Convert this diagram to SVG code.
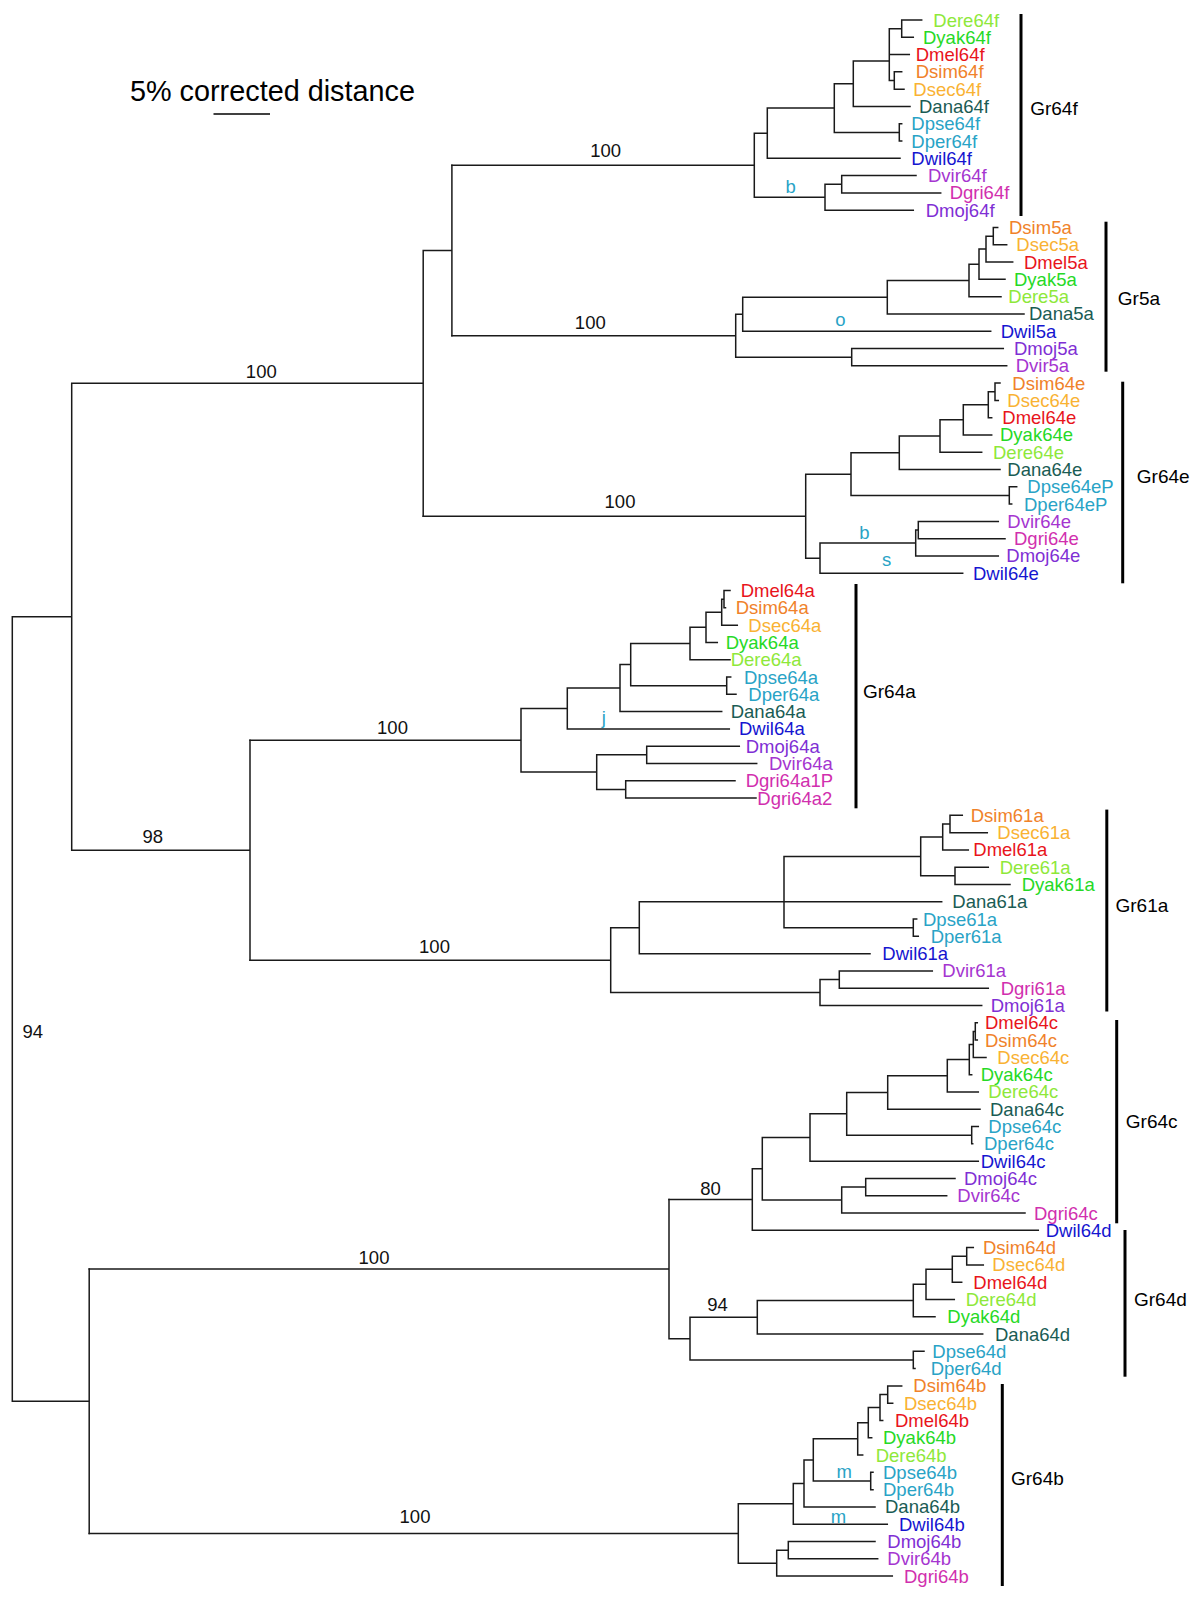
<svg xmlns="http://www.w3.org/2000/svg" width="1200" height="1607" viewBox="0 0 1200 1607">
<style>
.br{fill:none;stroke:#1a1a1a;stroke-width:1.5;stroke-linecap:square}
.bk{fill:none;stroke:#000;stroke-width:3}
text{font-family:"Liberation Sans",Arial,sans-serif}
.lf text{font-size:18.5px;dominant-baseline:central}
.gr{font-size:19px;fill:#000;dominant-baseline:central}
.bs{font-size:18.5px;fill:#111;text-anchor:middle}
.nt{font-size:18.5px;fill:#29a3c6;text-anchor:middle}
.mel{fill:#e8141b}.sim{fill:#f0822a}.sec{fill:#f9b233}.yak{fill:#26d926}.ere{fill:#8ee83a}
.ana{fill:#1a5c54}.pse{fill:#29a3c6}.wil{fill:#1515d0}.moj{fill:#7f2fd4}.vir{fill:#a535d0}.gri{fill:#d12fae}
</style>
<rect width="1200" height="1607" fill="#fff"/>
<g id="scale">
<text x="130" y="100.5" font-size="28.8" fill="#000">5% corrected distance</text>
<path d="M213.5 114H270" stroke="#000" stroke-width="1.5"/>
</g>
<g id="connectors">
<path class="br" d="M451.9 165.21V335.68 M423.2 250.45H451.9 M423.2 250.45V516.14 M71.7 383.29H423.2 M71.7 383.29V850.23 M71.7 850.23H250 M250 740.31V960.14 M12.3 616.76H71.7 M12.3 616.76V1401.28 M12.3 1401.28H89.2 M89.2 1269.08V1533.48"/>
<path class="br" d="M901.7 20V37.29 M894.3 71.87V89.16 M889.3 28.65V80.52 M899.3 123.74V141.03 M853.3 61.06V106.45 M834.3 83.76V132.39 M767.3 108.07V158.32 M841.7 175.61V192.9 M825 184.26V210.19 M754.3 133.2V197.22 M901.7 20H921.7 M901.7 37.29H913.3 M889.3 28.65H901.7 M889.3 54.58H909.3 M894.3 71.87H901.7 M894.3 89.16H904 M889.3 80.52H894.3 M853.3 61.06H889.3 M853.3 106.45H910 M834.3 83.76H853.3 M899.3 123.74H901.7 M899.3 141.03H901.7 M834.3 132.39H899.3 M767.3 108.07H834.3 M767.3 158.32H900 M754.3 133.2H767.3 M841.7 175.61H916 M841.7 192.9H940.7 M825 184.26H841.7 M825 210.19H913.3 M754.3 197.22H825 M451.9 165.21H754.3"/>
<path class="br" d="M993.3 227.48V244.77 M986 236.13V262.06 M979 249.09V279.35 M969 264.22V296.64 M887.3 280.43V313.93 M742.7 297.18V331.22 M851.7 348.51V365.8 M735.7 314.2V357.16 M993.3 227.48H997.7 M993.3 244.77H1006.7 M986 236.13H993.3 M986 262.06H1012.7 M979 249.09H986 M979 279.35H1005 M969 264.22H979 M969 296.64H1001 M887.3 280.43H969 M887.3 313.93H1024 M742.7 297.18H887.3 M742.7 331.22H990.7 M735.7 314.2H742.7 M851.7 348.51H1003.3 M851.7 365.8H1006.7 M735.7 357.16H851.7 M451.9 335.68H735.7"/>
<path class="br" d="M995 383.09V400.38 M988.3 391.74V417.67 M963.3 404.7V434.96 M940 419.83V452.25 M899.3 436.04V469.54 M1009.3 486.83V504.12 M851 452.79V495.48 M918.3 521.41V538.7 M915.7 530.06V555.99 M820 543.02V573.28 M805.7 474.13V558.15 M995 383.09H1000 M995 400.38H998.3 M988.3 391.74H995 M988.3 417.67H991.7 M963.3 404.7H988.3 M963.3 434.96H991.7 M940 419.83H963.3 M940 452.25H981.7 M899.3 436.04H940 M899.3 469.54H1000 M851 452.79H899.3 M1009.3 486.83H1016.7 M1009.3 504.12H1011.7 M851 495.48H1009.3 M805.7 474.13H851 M918.3 521.41H998.3 M918.3 538.7H1005 M915.7 530.06H918.3 M915.7 555.99H998.3 M820 543.02H915.7 M820 573.28H962.7 M805.7 558.15H820 M423.2 516.14H805.7"/>
<path class="br" d="M724 590.57V607.86 M721.7 599.22V625.15 M706 612.18V642.44 M690 627.31V659.73 M726.7 677.02V694.31 M630.7 643.52V685.67 M620 664.59V711.6 M567.3 688.1V728.89 M646.7 746.18V763.47 M625.7 780.76V798.05 M596.7 754.83V789.41 M521 708.5V772.12 M724 590.57H730 M724 607.86H725.5 M721.7 599.22H724 M721.7 625.15H737.3 M706 612.18H721.7 M706 642.44H717.3 M690 627.31H706 M690 659.73H730 M630.7 643.52H690 M726.7 677.02H730.7 M726.7 694.31H736 M630.7 685.67H726.7 M620 664.59H630.7 M620 711.6H721.7 M567.3 688.1H620 M567.3 728.89H729.3 M521 708.5H567.3 M646.7 746.18H739.3 M646.7 763.47H756.7 M596.7 754.83H646.7 M625.7 780.76H735 M625.7 798.05H756 M596.7 789.41H625.7 M521 772.12H596.7 M250 740.31H521"/>
<path class="br" d="M950 815.34V832.63 M942.7 823.99V849.92 M955 867.21V884.5 M920.7 836.95V875.86 M913.3 919.08V936.37 M784 856.4V927.73 M639.3 901.79V953.66 M839.3 970.95V988.24 M820 979.6V1005.53 M610.7 927.73V992.56 M950 815.34H962.3 M950 832.63H987.3 M942.7 823.99H950 M942.7 849.92H968.3 M920.7 836.95H942.7 M955 867.21H988.3 M955 884.5H1010 M920.7 875.86H955 M784 856.4H920.7 M913.3 919.08H916.7 M913.3 936.37H918.3 M784 927.73H913.3 M639.3 901.79H941.7 M639.3 953.66H870 M610.7 927.73H639.3 M839.3 970.95H932.3 M839.3 988.24H988.3 M820 979.6H839.3 M820 1005.53H981.7 M610.7 992.56H820 M250 960.14H610.7"/>
<path class="br" d="M975.3 1022.82V1040.11 M973.3 1031.47V1057.4 M969.3 1044.43V1074.69 M947.3 1059.56V1091.98 M887.7 1075.77V1109.27 M971.7 1126.56V1143.85 M846.7 1092.52V1135.21 M810 1113.86V1161.14 M865.7 1178.43V1195.72 M841.7 1187.08V1213.01 M762.3 1137.5V1200.04 M752.3 1168.77V1230.3 M975.3 1022.82H977.3 M975.3 1040.11H977.3 M973.3 1031.47H975.3 M973.3 1057.4H986 M969.3 1044.43H973.3 M969.3 1074.69H971.7 M947.3 1059.56H969.3 M947.3 1091.98H978.3 M887.7 1075.77H947.3 M887.7 1109.27H980 M846.7 1092.52H887.7 M971.7 1126.56H978.3 M971.7 1143.85H972.7 M846.7 1135.21H971.7 M810 1113.86H846.7 M810 1161.14H978.3 M762.3 1137.5H810 M865.7 1178.43H955 M865.7 1195.72H946.7 M841.7 1187.08H865.7 M841.7 1213.01H1025 M762.3 1200.04H841.7 M752.3 1168.77H762.3 M752.3 1230.3H1038.3 M669 1199.54H752.3"/>
<path class="br" d="M966.7 1247.59V1264.88 M952.3 1256.24V1282.17 M926 1269.2V1299.46 M913.3 1284.33V1316.75 M757.3 1300.54V1334.04 M913.3 1351.33V1368.62 M690 1317.29V1359.98 M669 1199.54V1338.63 M966.7 1247.59H973.3 M966.7 1264.88H983.3 M952.3 1256.24H966.7 M952.3 1282.17H961.7 M926 1269.2H952.3 M926 1299.46H954.3 M913.3 1284.33H926 M913.3 1316.75H935 M757.3 1300.54H913.3 M757.3 1334.04H982.7 M690 1317.29H757.3 M913.3 1351.33H924 M913.3 1368.62H915 M690 1359.98H913.3 M669 1338.63H690 M89.2 1269.08H669"/>
<path class="br" d="M887.7 1385.91V1403.2 M880 1394.56V1420.49 M868.3 1407.52V1437.78 M857.7 1422.65V1455.07 M870.7 1472.36V1489.65 M813.3 1438.86V1481.01 M804 1459.93V1506.94 M793.3 1483.44V1524.23 M788.3 1541.52V1558.81 M776.7 1550.17V1576.1 M738.3 1503.83V1563.13 M887.7 1385.91H901.7 M887.7 1403.2H892.7 M880 1394.56H887.7 M880 1420.49H882.7 M868.3 1407.52H880 M868.3 1437.78H871.7 M857.7 1422.65H868.3 M857.7 1455.07H862.7 M813.3 1438.86H857.7 M870.7 1472.36H873 M870.7 1489.65H873 M813.3 1481.01H870.7 M804 1459.93H813.3 M804 1506.94H875 M793.3 1483.44H804 M793.3 1524.23H887.3 M738.3 1503.83H793.3 M788.3 1541.52H875 M788.3 1558.81H877.7 M776.7 1550.17H788.3 M776.7 1576.1H892.3 M738.3 1563.13H776.7 M89.2 1533.48H738.3"/>
</g>
<g id="support">
<text class="bs" x="605.7" y="157.2">100</text>
<text class="bs" x="590.3" y="329.4">100</text>
<text class="bs" x="620" y="507.6">100</text>
<text class="bs" x="261.3" y="377.6">100</text>
<text class="bs" x="392.5" y="734.2">100</text>
<text class="bs" x="152.7" y="842.8">98</text>
<text class="bs" x="434.5" y="952.5">100</text>
<text class="bs" x="32.8" y="1037.6">94</text>
<text class="bs" x="374" y="1264">100</text>
<text class="bs" x="710.5" y="1195.4">80</text>
<text class="bs" x="717.5" y="1311.2">94</text>
<text class="bs" x="415" y="1523.3">100</text>
</g>
<g id="notes">
<text class="nt" x="790.7" y="193">b</text>
<text class="nt" x="840.5" y="325.5">o</text>
<text class="nt" x="864.5" y="538.8">b</text>
<text class="nt" x="886.6" y="565.5">s</text>
<text class="nt" x="603.8" y="723.5">j</text>
<text class="nt" x="844.2" y="1477.5">m</text>
<text class="nt" x="838.5" y="1522.5">m</text>
</g>
<g id="clade-Gr64f">
<path class="bk" d="M1021 14V216"/><text class="gr" x="1030.2" y="108.3">Gr64f</text>
<g class="lf">
<g id="Dere64f"><text class="ere" x="933.3" y="20">Dere64f</text></g>
<g id="Dyak64f"><text class="yak" x="923" y="37.29">Dyak64f</text></g>
<g id="Dmel64f"><text class="mel" x="915.7" y="54.58">Dmel64f</text></g>
<g id="Dsim64f"><text class="sim" x="915.7" y="71.87">Dsim64f</text></g>
<g id="Dsec64f"><text class="sec" x="913.3" y="89.16">Dsec64f</text></g>
<g id="Dana64f"><text class="ana" x="919" y="106.45">Dana64f</text></g>
<g id="Dpse64f"><text class="pse" x="911.3" y="123.74">Dpse64f</text></g>
<g id="Dper64f"><text class="pse" x="911.3" y="141.03">Dper64f</text></g>
<g id="Dwil64f"><text class="wil" x="911.3" y="158.32">Dwil64f</text></g>
<g id="Dvir64f"><text class="vir" x="928" y="175.61">Dvir64f</text></g>
<g id="Dgri64f"><text class="gri" x="949.7" y="192.9">Dgri64f</text></g>
<g id="Dmoj64f"><text class="moj" x="925.7" y="210.19">Dmoj64f</text></g>
</g>
</g>
<g id="clade-Gr5a">
<path class="bk" d="M1106 221.7V371.7"/><text class="gr" x="1117.8" y="298.3">Gr5a</text>
<g class="lf">
<g id="Dsim5a"><text class="sim" x="1009" y="227.48">Dsim5a</text></g>
<g id="Dsec5a"><text class="sec" x="1016.3" y="244.77">Dsec5a</text></g>
<g id="Dmel5a"><text class="mel" x="1024" y="262.06">Dmel5a</text></g>
<g id="Dyak5a"><text class="yak" x="1014" y="279.35">Dyak5a</text></g>
<g id="Dere5a"><text class="ere" x="1008.3" y="296.64">Dere5a</text></g>
<g id="Dana5a"><text class="ana" x="1029" y="313.93">Dana5a</text></g>
<g id="Dwil5a"><text class="wil" x="1000.7" y="331.22">Dwil5a</text></g>
<g id="Dmoj5a"><text class="moj" x="1014" y="348.51">Dmoj5a</text></g>
<g id="Dvir5a"><text class="vir" x="1015.7" y="365.8">Dvir5a</text></g>
</g>
</g>
<g id="clade-Gr64e">
<path class="bk" d="M1122.7 381.7V583.3"/><text class="gr" x="1136.8" y="476.7">Gr64e</text>
<g class="lf">
<g id="Dsim64e"><text class="sim" x="1012.3" y="383.09">Dsim64e</text></g>
<g id="Dsec64e"><text class="sec" x="1007.3" y="400.38">Dsec64e</text></g>
<g id="Dmel64e"><text class="mel" x="1002.3" y="417.67">Dmel64e</text></g>
<g id="Dyak64e"><text class="yak" x="1000" y="434.96">Dyak64e</text></g>
<g id="Dere64e"><text class="ere" x="993" y="452.25">Dere64e</text></g>
<g id="Dana64e"><text class="ana" x="1007.3" y="469.54">Dana64e</text></g>
<g id="Dpse64eP"><text class="pse" x="1027.3" y="486.83">Dpse64eP</text></g>
<g id="Dper64eP"><text class="pse" x="1024" y="504.12">Dper64eP</text></g>
<g id="Dvir64e"><text class="vir" x="1007.3" y="521.41">Dvir64e</text></g>
<g id="Dgri64e"><text class="gri" x="1014" y="538.7">Dgri64e</text></g>
<g id="Dmoj64e"><text class="moj" x="1006.3" y="555.99">Dmoj64e</text></g>
<g id="Dwil64e"><text class="wil" x="973" y="573.28">Dwil64e</text></g>
</g>
</g>
<g id="clade-Gr64a">
<path class="bk" d="M856 584V808.3"/><text class="gr" x="863" y="691.7">Gr64a</text>
<g class="lf">
<g id="Dmel64a"><text class="mel" x="740.7" y="590.57">Dmel64a</text></g>
<g id="Dsim64a"><text class="sim" x="735.7" y="607.86">Dsim64a</text></g>
<g id="Dsec64a"><text class="sec" x="748.3" y="625.15">Dsec64a</text></g>
<g id="Dyak64a"><text class="yak" x="725.7" y="642.44">Dyak64a</text></g>
<g id="Dere64a"><text class="ere" x="730.7" y="659.73">Dere64a</text></g>
<g id="Dpse64a"><text class="pse" x="744" y="677.02">Dpse64a</text></g>
<g id="Dper64a"><text class="pse" x="748.3" y="694.31">Dper64a</text></g>
<g id="Dana64a"><text class="ana" x="730.7" y="711.6">Dana64a</text></g>
<g id="Dwil64a"><text class="wil" x="739" y="728.89">Dwil64a</text></g>
<g id="Dmoj64a"><text class="moj" x="745.7" y="746.18">Dmoj64a</text></g>
<g id="Dvir64a"><text class="vir" x="769" y="763.47">Dvir64a</text></g>
<g id="Dgri64a1P"><text class="gri" x="745.7" y="780.76">Dgri64a1P</text></g>
<g id="Dgri64a2"><text class="gri" x="757.3" y="798.05">Dgri64a2</text></g>
</g>
</g>
<g id="clade-Gr61a">
<path class="bk" d="M1106.8 809.6V1011.5"/><text class="gr" x="1115.5" y="905">Gr61a</text>
<g class="lf">
<g id="Dsim61a"><text class="sim" x="970.7" y="815.34">Dsim61a</text></g>
<g id="Dsec61a"><text class="sec" x="997.3" y="832.63">Dsec61a</text></g>
<g id="Dmel61a"><text class="mel" x="973.3" y="849.92">Dmel61a</text></g>
<g id="Dere61a"><text class="ere" x="999.7" y="867.21">Dere61a</text></g>
<g id="Dyak61a"><text class="yak" x="1021.7" y="884.5">Dyak61a</text></g>
<g id="Dana61a"><text class="ana" x="952.3" y="901.79">Dana61a</text></g>
<g id="Dpse61a"><text class="pse" x="923" y="919.08">Dpse61a</text></g>
<g id="Dper61a"><text class="pse" x="930.7" y="936.37">Dper61a</text></g>
<g id="Dwil61a"><text class="wil" x="882.3" y="953.66">Dwil61a</text></g>
<g id="Dvir61a"><text class="vir" x="942.3" y="970.95">Dvir61a</text></g>
<g id="Dgri61a"><text class="gri" x="1000.7" y="988.24">Dgri61a</text></g>
<g id="Dmoj61a"><text class="moj" x="990.7" y="1005.53">Dmoj61a</text></g>
</g>
</g>
<g id="clade-Gr64c">
<path class="bk" d="M1116.7 1020V1223.3"/><text class="gr" x="1125.8" y="1121">Gr64c</text>
<g class="lf">
<g id="Dmel64c"><text class="mel" x="985" y="1022.82">Dmel64c</text></g>
<g id="Dsim64c"><text class="sim" x="985" y="1040.11">Dsim64c</text></g>
<g id="Dsec64c"><text class="sec" x="997.3" y="1057.4">Dsec64c</text></g>
<g id="Dyak64c"><text class="yak" x="980.7" y="1074.69">Dyak64c</text></g>
<g id="Dere64c"><text class="ere" x="988.3" y="1091.98">Dere64c</text></g>
<g id="Dana64c"><text class="ana" x="990" y="1109.27">Dana64c</text></g>
<g id="Dpse64c"><text class="pse" x="988.3" y="1126.56">Dpse64c</text></g>
<g id="Dper64c"><text class="pse" x="984" y="1143.85">Dper64c</text></g>
<g id="Dwil64c"><text class="wil" x="980.7" y="1161.14">Dwil64c</text></g>
<g id="Dmoj64c"><text class="moj" x="964" y="1178.43">Dmoj64c</text></g>
<g id="Dvir64c"><text class="vir" x="957.3" y="1195.72">Dvir64c</text></g>
<g id="Dgri64c"><text class="gri" x="1034" y="1213.01">Dgri64c</text></g>
<g id="Dwil64d"><text class="wil" x="1045.7" y="1230.3">Dwil64d</text></g>
</g>
</g>
<g id="clade-Gr64d">
<path class="bk" d="M1125 1230V1376.7"/><text class="gr" x="1134" y="1299.5">Gr64d</text>
<g class="lf">
<g id="Dsim64d"><text class="sim" x="983" y="1247.59">Dsim64d</text></g>
<g id="Dsec64d"><text class="sec" x="992.3" y="1264.88">Dsec64d</text></g>
<g id="Dmel64d"><text class="mel" x="973.3" y="1282.17">Dmel64d</text></g>
<g id="Dere64d"><text class="ere" x="965.7" y="1299.46">Dere64d</text></g>
<g id="Dyak64d"><text class="yak" x="947.3" y="1316.75">Dyak64d</text></g>
<g id="Dana64d"><text class="ana" x="995" y="1334.04">Dana64d</text></g>
<g id="Dpse64d"><text class="pse" x="932.3" y="1351.33">Dpse64d</text></g>
<g id="Dper64d"><text class="pse" x="930.7" y="1368.62">Dper64d</text></g>
</g>
</g>
<g id="clade-Gr64b">
<path class="bk" d="M1002.3 1384V1586"/><text class="gr" x="1011" y="1478.8">Gr64b</text>
<g class="lf">
<g id="Dsim64b"><text class="sim" x="913.3" y="1385.91">Dsim64b</text></g>
<g id="Dsec64b"><text class="sec" x="904" y="1403.2">Dsec64b</text></g>
<g id="Dmel64b"><text class="mel" x="895" y="1420.49">Dmel64b</text></g>
<g id="Dyak64b"><text class="yak" x="883" y="1437.78">Dyak64b</text></g>
<g id="Dere64b"><text class="ere" x="875.7" y="1455.07">Dere64b</text></g>
<g id="Dpse64b"><text class="pse" x="883" y="1472.36">Dpse64b</text></g>
<g id="Dper64b"><text class="pse" x="883" y="1489.65">Dper64b</text></g>
<g id="Dana64b"><text class="ana" x="885" y="1506.94">Dana64b</text></g>
<g id="Dwil64b"><text class="wil" x="899" y="1524.23">Dwil64b</text></g>
<g id="Dmoj64b"><text class="moj" x="887.3" y="1541.52">Dmoj64b</text></g>
<g id="Dvir64b"><text class="vir" x="887.3" y="1558.81">Dvir64b</text></g>
<g id="Dgri64b"><text class="gri" x="904" y="1576.1">Dgri64b</text></g>
</g>
</g>
</svg>
